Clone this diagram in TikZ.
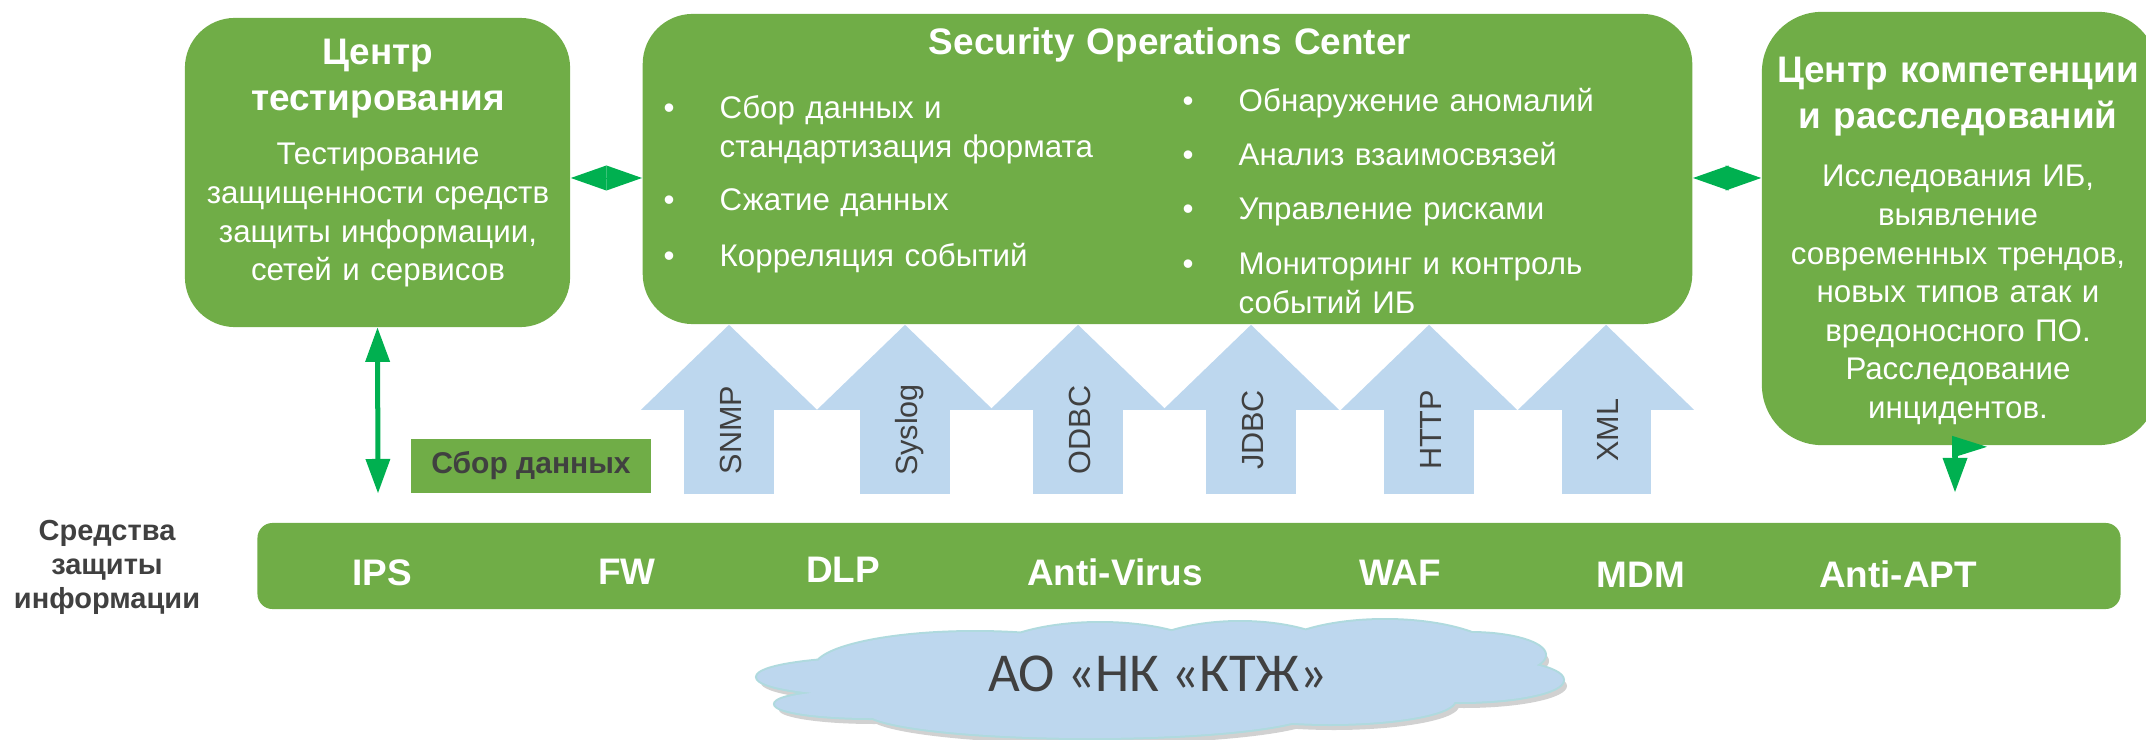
\documentclass[tikz,border=0pt]{standalone}
\usepackage{fontspec}
\setmainfont{Liberation Sans}
\newfontfamily\cloudfont{Carlito}
\usepackage{xcolor}
\usepackage{tikz}
\usetikzlibrary{positioning, shapes}
\usetikzlibrary{arrows.meta}
\definecolor{boxgreen}{RGB}{112,173,71}
\definecolor{linkgreen}{RGB}{0,176,80}
\definecolor{protoblue}{RGB}{189,215,238}
\definecolor{protoedge}{RGB}{175,218,222}
\definecolor{darktext}{RGB}{64,64,64}
% lobes of the company cloud
\newcommand\cloudpuffs{
  (880,677) ellipse [x radius=123, y radius=19]
  (870,704) ellipse [x radius=95, y radius=14]
  (975,668) ellipse [x radius=160, y radius=36]
  (1100,665) ellipse [x radius=120, y radius=42]
  (1240,665) ellipse [x radius=110, y radius=43]
  (1385,662) ellipse [x radius=120, y radius=42]
  (1470,655) ellipse [x radius=75, y radius=22]
  (1460,680) ellipse [x radius=103, y radius=22]
  (1330,700) ellipse [x radius=125, y radius=24]
  (1090,711) ellipse [x radius=225, y radius=27]
}

\begin{document}
\begin{tikzpicture}[x=0.01cm, y=-0.01cm]
        \tikzset{panel/.style = {fill=boxgreen, rounded corners=0.5cm, inner sep=0pt}}
        \tikzset{title/.style = {white, font=\fontsize{10.5}{12.8}\selectfont\bfseries, text width=4cm, align=center, anchor=base, inner sep=0pt}}
        \tikzset{body/.style = {white, font=\fontsize{8.9}{10.95}\selectfont, text width=3.8cm, align=center, anchor=base, inner sep=0pt}}
        \tikzset{item/.style = {white, font=\fontsize{8.9}{10.95}\selectfont, text width=4.2cm, align=left, anchor=base west, inner sep=0pt}}
        \tikzset{dot/.style = {white, font=\fontsize{8.9}{10.95}\selectfont, anchor=base, inner sep=0pt}}
        \tikzset{link/.style = {linkgreen, line width=0.05cm, arrows={Triangle[length=0.34cm,width=0.25cm,line width=0pt]-Triangle[length=0.34cm,width=0.25cm,line width=0pt]}}}
        \tikzset{diamondlink/.style = {linkgreen, line width=0.1pt, arrows={Triangle[length=0.355cm,width=0.25cm,line width=0pt]-Triangle[length=0.355cm,width=0.25cm,line width=0pt]}}}
        \tikzset{proto/.style = {protoblue, line width=0.89cm, -{Triangle[length=0.85cm,width=1.76cm,line width=0pt]}}}
        \tikzset{protolabel/.style = {darktext, rotate=90, font=\fontsize{8.7}{10}\selectfont, text height=0.716em, text depth=0pt, inner sep=0pt}}
        \tikzset{tool/.style = {white, font=\fontsize{10.5}{12}\selectfont\bfseries, anchor=base, inner sep=0pt}}

        \useasboundingbox (0,0) rectangle (2146,740);

        % boxes
        \node[panel, minimum width=3.85cm, minimum height=3.09cm] (test) at (377.5,172.5) {};
        \node[panel, minimum width=10.49cm, minimum height=3.10cm] (soc) at (1167.5,169) {};
        \node[panel, rounded corners=0.6cm, minimum width=3.96cm, minimum height=4.33cm] (comp) at (1960,228.5) {};
        \node[panel, rounded corners=0.15cm, minimum width=18.62cm, minimum height=0.86cm] (tools) at (1189,566) {};
        \node[fill=boxgreen, minimum width=2.4cm, minimum height=0.54cm, inner sep=0pt, text=darktext, font=\fontsize{8.54}{10}\selectfont\bfseries] (collect) at (531,466) {Сбор данных};

        % testing centre
        \node[title] (testtitle) at (378,65) {Центр\\тестирования};
        \node[body] (testtext) at (378,165) {Тестирование\\защищенности средств\\защиты информации,\\сетей и сервисов};

        % SOC
        \node[title, text width=6cm] (soctitle) at (1170,55) {Security Operations Center};
        \node[dot] (d1) at (669,119) {•};
        \node[item] (i1) at (719,119) {Сбор данных и\\стандартизация формата};
        \node[dot] (d2) at (669,211) {•};
        \node[item] (i2) at (719,211) {Сжатие данных};
        \node[dot] (d3) at (669,267) {•};
        \node[item] (i3) at (719,267) {Корреляция событий};
        \node[dot] (d4) at (1188,112) {•};
        \node[item] (i4) at (1238,112) {Обнаружение аномалий};
        \node[dot] (d5) at (1188,166) {•};
        \node[item] (i5) at (1238,166) {Анализ взаимосвязей};
        \node[dot] (d6) at (1188,220) {•};
        \node[item] (i6) at (1238,220) {Управление рисками};
        \node[dot] (d7) at (1188,275) {•};
        \node[item] (i7) at (1238,275) {Мониторинг и контроль\\событий ИБ};

        % competence centre
        \node[title, text width=3.9cm] (comptitle) at (1958,83) {Центр компетенции\\и расследований};
        \node[body] (comptext) at (1958,187) {Исследования ИБ,\\выявление\\современных трендов,\\новых типов атак и\\вредоносного ПО.\\Расследование\\инцидентов.};

        % links between centres
        \coordinate (linkrow) at (0,178);
        \draw[diamondlink] (test.east |- linkrow) -- (soc.west |- linkrow);
        \draw[diamondlink] (soc.east |- linkrow) -- (comp.west |- linkrow);
        \coordinate (testfoot) at (378,493);
        \draw[link] (test.south) -- (testfoot);
        \coordinate (compfoot) at (1955,492);
        \draw[linkgreen, line width=0.05cm, -{Triangle[length=0.34cm,width=0.25cm,line width=0pt]}] (compfoot |- comp.south) -- (compfoot);
        \fill[linkgreen] (compfoot |- comp.south) ++(-3,-10) -- ++(0,22) -- ++(35,-11) -- cycle;

        % protocols
        \coordinate (snmpbase) at (729,494);
        \coordinate (syslogbase) at (905,494);
        \coordinate (odbcbase) at (1078,494);
        \coordinate (jdbcbase) at (1251,494);
        \coordinate (httpbase) at (1429,494);
        \coordinate (xmlbase) at (1606,494);
        \draw[proto] (snmpbase) -- (snmpbase |- soc.south);
        \draw[proto] (syslogbase) -- (syslogbase |- soc.south);
        \draw[proto] (odbcbase) -- (odbcbase |- soc.south);
        \draw[proto] (jdbcbase) -- (jdbcbase |- soc.south);
        \draw[proto] (httpbase) -- (httpbase |- soc.south);
        \draw[proto] (xmlbase) -- (xmlbase |- soc.south);
        \node[protolabel] (snmp) at (729,430) {SNMP};
        \node[protolabel] (syslog) at (905,430) {Syslog};
        \node[protolabel] (odbc) at (1078,430) {ODBC};
        \node[protolabel] (jdbc) at (1251,430) {JDBC};
        \node[protolabel] (http) at (1429,430) {HTTP};
        \node[protolabel] (xml) at (1606,430) {XML};

        % security tools
        \node[darktext, font=\fontsize{8.25}{9.67}\selectfont\bfseries, text width=2.1cm, align=center, anchor=base, inner sep=0pt] (sidelabel) at (107,540) {Средства\\защиты\\информации};
        \node[tool] (ips) at (382,585) {IPS};
        \node[tool] (fw) at (627,584) {FW};
        \node[tool] (dlp) at (843,582) {DLP};
        \node[tool] (av) at (1115,585) {Anti-Virus};
        \node[tool] (waf) at (1400,585) {WAF};
        \node[tool] (mdm) at (1641,587) {MDM};
        \node[tool] (apt) at (1898,587) {Anti-APT};

        % company cloud
        \begin{scope}[transparency group, opacity=0.18]
          \fill[black, shift={(4,6)}] \cloudpuffs;
        \end{scope}
        \draw[protoedge, line width=0.04cm] \cloudpuffs;
        \fill[protoblue] \cloudpuffs;
        \node[text=darktext, font=\cloudfont\fontsize{15.6}{18}\selectfont, text height=0.64em, text depth=0pt, inner sep=0pt] (ktzh) at (1158,680) {АО «НК «КТЖ»};
\end{tikzpicture}
\end{document}
